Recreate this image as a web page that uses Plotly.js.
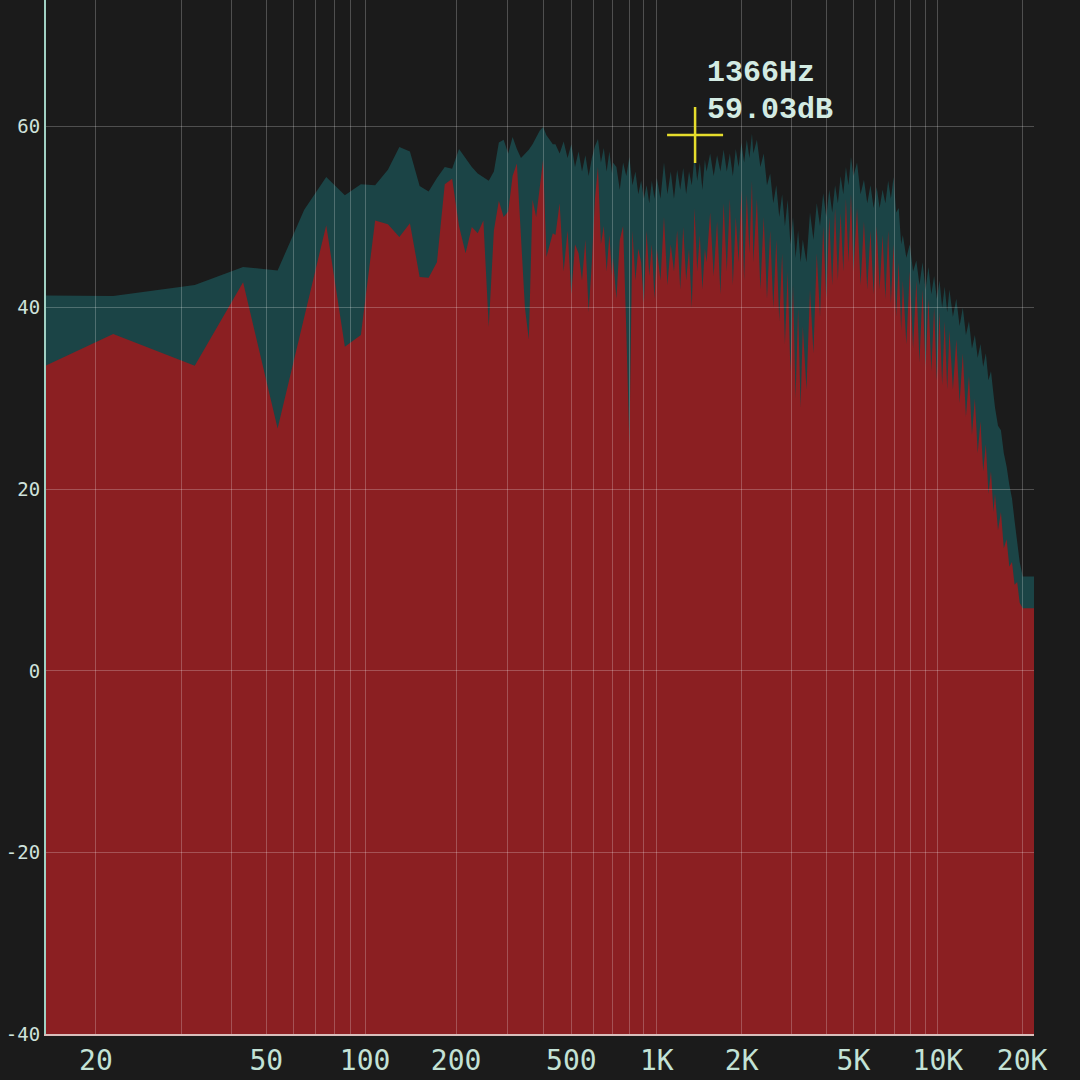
<!DOCTYPE html>
<html>
<head>
<meta charset="utf-8">
<script src="https://cdn.plot.ly/plotly-3.0.1.min.js"></script>
<style>
  html, body { margin: 0; padding: 0; background: #1b1b1b; }
  #chart { width: 1080px; height: 1080px; }
</style>
</head>
<body>
<div id="chart"></div>
<script>
// ---- Data (frequency in Hz, level in dB) ----
const freqHz = [
  10.8, 21.5, 32.3, 43.1, 53.9, 64.6, 75.4, 86.2, 96.9, 107.7,
  118.5, 129.2, 140.0, 150.8, 161.6, 172.3, 183.1, 193.9, 204.6, 215.4,
  226.2, 236.9, 247.7, 258.5, 269.2, 280.0, 290.8, 301.6, 312.3, 323.1,
  333.9, 344.6, 355.4, 366.2, 376.9, 387.7, 398.5, 409.3, 420.0, 430.8,
  440, 455, 470, 485, 500, 515, 530, 545, 560, 575, 590, 605, 620, 635, 650, 665, 680, 695,
  700, 720, 740, 760, 780, 800, 820, 840, 860, 880, 900, 920, 940, 960, 980,
  1000, 1030, 1060, 1090, 1120, 1150, 1180, 1210, 1240, 1270, 1300, 1330, 1360, 1390, 1420, 1450, 1480,
  1500, 1545, 1590, 1635, 1680, 1725, 1770, 1815, 1860, 1905, 1950, 1995, 2040, 2085, 2130, 2175,
  2200, 2265, 2330, 2395, 2460, 2525, 2590, 2655, 2720, 2785, 2850, 2915, 2980, 3045, 3110, 3175, 3240,
  3300, 3400, 3500, 3600, 3700, 3800, 3900, 4000, 4100, 4200, 4300, 4400, 4500, 4600, 4700, 4800, 4900,
  5000, 5150, 5300, 5450, 5600, 5750, 5900, 6050, 6200, 6350, 6500, 6650, 6800, 6950, 7100, 7250, 7400,
  7500, 7720, 7940, 8160, 8380, 8600, 8820, 9040, 9260, 9480, 9700, 9920, 10140, 10360, 10580, 10800,
  11000, 11320, 11640, 11960, 12280, 12600, 12920, 13240, 13560, 13880, 14200, 14520, 14840, 15160, 15480, 15800,
  16000, 16400, 16800, 17200, 17600, 18000, 18400, 18800, 19200, 19600,
  20100, 22050
];

// current spectrum (red)
const currentDb = [
  18.7, 37.1, 33.6, 42.8, 26.7, 39.0, 49.1, 35.7, 37.0, 49.6,
  49.2, 47.8, 49.3, 43.4, 43.3, 45.0, 53.6, 54.2, 49.0, 46.0,
  48.9, 48.2, 49.6, 37.9, 48.5, 51.8, 50.0, 50.6, 54.5, 55.9,
  47.0, 40.0, 36.5, 51.9, 50.0, 53.5, 56.3, 45.6, 47.0, 48.2,
  48.0, 51.5, 44.0, 48.5, 41.5, 47.0, 46.0, 43.0, 47.5, 39.5, 45.0, 52.0, 55.5, 47.0, 49.0, 44.0, 48.0, 43.5,
  45.5, 41.0, 47.5, 49.0, 37.5, 25.0, 48.5, 43.0, 46.5, 45.0, 40.5, 48.5, 43.5, 47.0, 41.0,
  46.5, 43.0, 50.0, 42.5, 47.0, 44.0, 48.5, 42.0, 48.9, 43.0, 46.5, 40.0, 51.0, 44.0, 48.0, 42.0, 46.5,
  45.0, 50.5, 43.5, 49.5, 41.5, 51.5, 44.0, 52.0, 42.5, 50.0, 45.0, 53.0, 43.0, 52.5, 46.0, 54.0,
  45.0, 52.0, 42.0, 50.0, 41.0, 48.5, 40.0, 47.5, 38.5, 46.0, 36.0, 44.0, 33.0, 42.5, 30.0, 40.0, 29.0,
  38.0, 31.0, 42.0, 35.0, 46.0, 39.0, 49.0, 41.0, 50.0, 42.5, 51.0, 43.0, 50.5, 44.0, 52.0, 45.0, 52.5,
  44.0, 51.0, 42.5, 49.5, 42.0, 48.5, 41.5, 49.0, 42.0, 48.0, 41.0, 48.5, 40.5, 47.0, 39.0, 45.0, 37.5,
  43.0, 36.0, 44.0, 35.5, 43.0, 34.0, 42.0, 33.5, 41.0, 33.0, 40.0, 32.0, 39.5, 31.5, 38.5, 31.0,
  37.5, 31.0, 36.5, 29.5, 35.0, 28.0, 32.5, 26.0, 30.0, 24.0, 27.5, 22.0, 25.0, 19.5, 22.0, 17.5,
  19.5, 15.5, 17.5, 13.5, 14.5, 11.5, 12.0, 9.5, 9.8, 7.5,
  6.9, 6.9
];

// peak hold (teal)
const peakDb = [
  41.5, 41.3, 42.5, 44.5, 44.1, 50.8, 54.4, 52.4, 53.6, 53.5,
  55.2, 57.7, 57.2, 53.4, 52.8, 54.3, 55.5, 55.3, 57.5, 56.5,
  55.5, 54.8, 54.4, 54.0, 55.0, 58.2, 58.5, 57.0, 58.8, 57.5,
  56.5, 57.0, 57.4, 58.0, 58.8, 59.5, 59.9, 59.0, 58.5, 58.0,
  58.0, 57.0, 58.3, 56.5, 58.0, 55.5, 57.2, 55.0, 56.8, 54.5, 56.5, 57.8, 58.6, 56.0, 57.6, 55.0, 57.2, 54.8,
  56.0, 55.5, 53.0, 56.0, 54.5, 56.6, 53.5, 55.0, 52.5, 54.0, 52.0, 53.5, 51.5, 54.0, 52.0,
  54.3, 52.0, 56.0, 52.5, 55.0, 52.0, 55.2, 53.0, 55.4, 52.5, 55.0, 53.5, 56.8, 54.0, 56.0, 53.0, 56.3,
  55.0, 57.0, 54.5, 56.8, 55.0, 57.4, 55.0, 57.0, 54.5, 57.5, 55.5, 58.2, 56.0, 58.5, 56.5, 59.2,
  57.0, 58.5, 55.5, 57.0, 53.5, 54.8, 51.5, 53.5, 50.0, 52.5, 49.0, 51.9, 47.0, 50.0, 45.5, 48.5, 45.0,
  47.5, 45.0, 50.5, 47.5, 51.5, 49.0, 52.6, 50.0, 53.0, 50.5, 53.5, 51.5, 54.5, 52.5, 55.5, 53.5, 56.6,
  54.5, 56.0, 52.5, 54.1, 51.5, 53.5, 51.0, 53.3, 51.0, 53.0, 51.5, 54.0, 52.0, 54.4, 50.5, 51.0, 47.0,
  48.0, 45.5, 47.0, 44.0, 45.2, 42.5, 45.0, 42.0, 44.5, 41.5, 43.5, 41.0, 43.0, 40.0, 42.3, 39.5,
  42.0, 39.0, 41.0, 38.0, 40.0, 37.0, 38.5, 35.5, 37.0, 34.5, 36.0, 33.5, 35.0, 32.0, 33.0, 30.5,
  29.0, 27.0, 26.5, 24.0, 22.5, 20.5, 19.0, 16.5, 14.0, 12.0,
  10.4, 10.4
];

// axis grid / labels
const gridHz = [20, 30, 40, 50, 60, 70, 80, 90, 100, 200, 300, 400, 500, 600, 700, 800, 900,
                1000, 2000, 3000, 4000, 5000, 6000, 7000, 8000, 9000, 10000, 20000];
const labelHz = [20, 50, 100, 200, 500, 1000, 2000, 5000, 10000, 20000];
const labelText = ['20', '50', '100', '200', '500', '1K', '2K', '5K', '10K', '20K'];
const dbTicks = [-40, -20, 0, 20, 40, 60];
const cursorHz = 1366;
const cursorDb = 59.03;

// ---- Scale settings ----
const FREQ_MIN = 16.7, FREQ_MAX = 22050;
const DB_MIN = -40, DB_MAX = 73.9;
const BIN_OFFSET = 10.2;            // analyser's frequency axis: log of (f - offset)
const toX = f => Math.log10(f - BIN_OFFSET);

const xs = freqHz.map(toX);
const floorDb = freqHz.map(() => DB_MIN);
const xRange = [toX(FREQ_MIN), toX(FREQ_MAX)];

const BG = '#1b1b1b';
const TEAL = '#1b4446';
const RED = '#8b1f22';
const GRID = 'rgba(255,255,255,0.23)';
const MONO = '"DejaVu Sans Mono", monospace';
const CURSOR_FONT = '"Courier New", "Liberation Mono", monospace';

const traces = [
  { x: xs, y: floorDb, mode: 'lines', line: { width: 0 }, hoverinfo: 'skip', showlegend: false },
  { x: xs, y: peakDb, mode: 'lines', line: { width: 0 }, fill: 'tonexty', fillcolor: TEAL, showlegend: false },
  { x: xs, y: floorDb, mode: 'lines', line: { width: 0 }, hoverinfo: 'skip', showlegend: false },
  { x: xs, y: currentDb, mode: 'lines', line: { width: 0 }, fill: 'tonexty', fillcolor: RED, showlegend: false },
  { x: [toX(cursorHz)], y: [cursorDb], xaxis: 'x2', yaxis: 'y2', mode: 'markers', showlegend: false,
    marker: { symbol: 'cross-thin', size: 40, color: '#e6dd2c', line: { color: '#e6dd2c', width: 2.5 } } }
];

const layout = {
  width: 1080, height: 1080,
  margin: { l: 46, r: 46, t: 0, b: 46, pad: 0 },
  paper_bgcolor: BG,
  plot_bgcolor: 'rgba(0,0,0,0)',
  showlegend: false,
  xaxis: { range: xRange, showgrid: false, zeroline: false, showticklabels: false, showline: false, ticks: '' },
  yaxis: { range: [DB_MIN, DB_MAX], showgrid: false, zeroline: false, showticklabels: false, showline: false, ticks: '' },
  xaxis2: {
    range: xRange, anchor: 'y2',
    tickmode: 'array',
    tickvals: gridHz.map(toX),
    ticktext: gridHz.map(f => { const i = labelHz.indexOf(f); return i >= 0 ? labelText[i] : ''; }),
    showgrid: true, gridcolor: GRID, gridwidth: 1,
    zeroline: false,
    showline: true, linecolor: 'rgba(240,208,205,0.9)', linewidth: 2,
    ticks: '', ticklabelstandoff: 0,
    tickfont: { family: MONO, size: 28, color: '#c3e2d6' }
  },
  yaxis2: {
    range: [DB_MIN, DB_MAX], anchor: 'x2',
    tickmode: 'array',
    tickvals: dbTicks,
    ticktext: dbTicks.map(v => String(v)),
    showgrid: true, gridcolor: GRID, gridwidth: 1,
    zeroline: false,
    showline: true, linecolor: 'rgba(175,228,214,0.9)', linewidth: 2,
    ticks: '', ticklabelstandoff: 0,
    tickfont: { family: MONO, size: 19, color: '#cfe2dc' }
  },
  annotations: [
    { xref: 'x2', yref: 'y2', x: toX(cursorHz), y: cursorDb, text: '<b>' + cursorHz + 'Hz</b>',
      showarrow: false, xanchor: 'left', yanchor: 'middle', xshift: 10, yshift: 62,
      font: { family: CURSOR_FONT, size: 30, color: '#d3ebe3' } },
    { xref: 'x2', yref: 'y2', x: toX(cursorHz), y: cursorDb, text: '<b>' + cursorDb.toFixed(2) + 'dB</b>',
      showarrow: false, xanchor: 'left', yanchor: 'middle', xshift: 10, yshift: 25,
      font: { family: CURSOR_FONT, size: 30, color: '#d3ebe3' } }
  ]
};

Plotly.newPlot('chart', traces, layout, { staticPlot: true, displayModeBar: false });
</script>
</body>
</html>
